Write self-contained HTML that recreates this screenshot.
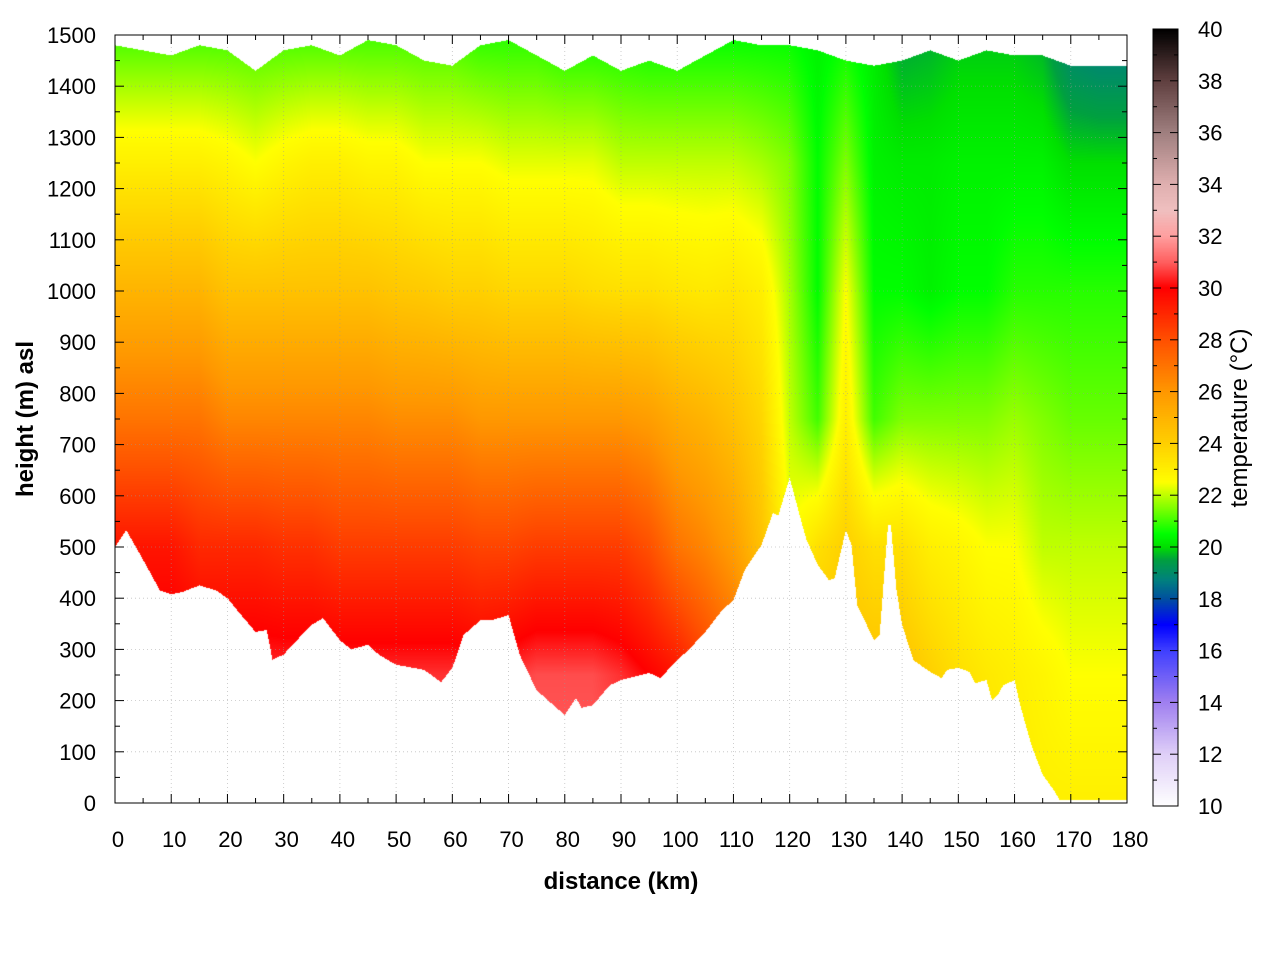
<!DOCTYPE html>
<html><head><meta charset="utf-8">
<style>
html,body{margin:0;padding:0;background:#fff;}
#wrap{position:relative;width:1280px;height:960px;overflow:hidden;font-family:"Liberation Sans",sans-serif;}
canvas{position:absolute;}
svg{position:absolute;left:0;top:0;}
</style></head>
<body>
<div id="wrap">
<canvas id="heat" width="1012" height="768" style="left:115px;top:35px"></canvas>
<canvas id="cbar" width="25" height="777" style="left:1153px;top:29px"></canvas>
<svg id="ov" width="1280" height="960"></svg>
</div>
<script>
// ---- data ----
const groundKm = [0,2,5,8,10,12,15,18,20,22,25,27,28,30,32,35,37,40,42,45,47,50,55,58,60,62,65,67,70,72,75,78,80,82,83,85,88,90,95,97,100,102,105,108,110,112,115,117,118,120,122,123,125,127,128,130,131,132,135,136,137.5,138,139,140,142,145,147,148,150,152,153,155,156,157,158,160,161,163,165,167,168,180];
const groundH = [500,533,475,415,408,412,425,415,400,373,334,338,280,290,314,348,361,318,300,309,289,270,260,236,264,328,357,357,367,289,220,191,172,205,186,191,230,240,254,244,279,299,334,377,396,455,504,566,562,635,553,514,465,435,439,533,504,387,318,328,543,543,416,348,279,256,244,260,264,256,234,240,201,211,230,240,191,113,55,25,6,6];
const topKm = [0,5,10,15,20,25,30,35,40,45,50,55,60,65,70,75,80,85,90,95,100,105,110,115,120,125,130,135,140,145,150,155,160,165,170,175,180];
const topH = [1480,1470,1460,1480,1470,1430,1470,1480,1460,1490,1480,1450,1440,1480,1490,1460,1430,1460,1430,1450,1430,1460,1490,1480,1480,1470,1450,1440,1450,1470,1450,1470,1460,1460,1440,1440,1440];
const gridKm = [0,5,10,15,20,25,30,35,40,45,50,55,60,65,70,75,80,85,90,95,100,105,110,115,120,125,130,135,140,145,150,155,160,165,170,175,180];
const gridHeights = [0,250,500,750,1000,1250,1500];
const temps = [
[31,30.5,29.5,27,25,23,21],[31,30.5,29.5,27,25,23,21],[31,30.5,29.5,27,25,23,21],[31,30.5,29,27,25,23,21],
[31,30.5,29,26.5,24.5,22.8,21],[31,30.5,29,26.5,24.5,22.5,21],[31,30.5,28.8,26.5,24.5,22.8,21],[31,30.5,28.8,26.5,24.5,23,21],
[31,30.5,28.5,26.5,24.5,23,21],[31,30.5,28.5,26.5,24.5,22.8,21],[31,30.5,28.5,26.3,24.3,22.8,21],[31,30.5,28.5,26.3,24.2,22.5,21],
[31,30.5,28.5,26.3,24,22.5,21],[31,30.3,28.3,26,24,22.5,20.8],[31,30.5,28.3,26,23.8,22.3,20.8],[31,30.8,28.5,26,23.8,22.3,20.8],
[31,30.8,28.5,26,23.8,22.3,20.6],[31,30.8,28.5,26,23.6,22.3,20.6],[31,30.5,28.5,26,23.5,22,20.6],[31,30,28,25.8,23.5,22,20.5],
[31,29.5,27,25.3,23.3,22,20.5],[30,28.5,26.5,25,23.2,22,20.5],[29,27.5,25.8,24.5,23.3,22,20.5],[28,26,24.5,23.8,23,21.8,20.5],
[27,25,22.5,22,21.8,21.5,20.5],[26,24.5,23.5,21,20.5,20.5,20.3],[26,24.5,24,23,22.5,21.5,20.5],[26,24.5,23.5,21,20.5,20.3,20.2],
[25,24.5,23.5,21.5,20.5,20.2,19.5],[24.5,24,23,21.5,20.3,20.2,19.6],[24,23.5,22.8,21.5,20.5,20.3,19.8],[23.5,23.2,22.5,21.5,20.5,20.3,19.8],
[23.2,23,22.5,21.7,20.8,20.3,19.8],[23,22.8,22,21.5,20.8,20.3,19.6],[23,22.5,22,21.3,20.8,20,18.8],[23,22.5,22,21.3,20.8,20,18.6],[23,22.5,22,21.3,20.8,20,18.6]
];
const xTicks = [0,10,20,30,40,50,60,70,80,90,100,110,120,130,140,150,160,170,180];
const yTicks = [0,100,200,300,400,500,600,700,800,900,1000,1100,1200,1300,1400,1500];
const cTicks = [10,12,14,16,18,20,22,24,26,28,30,32,34,36,38,40];
const cStops = [[10,'#ffffff'],[12,'#e0d0f8'],[14,'#a080f0'],[16,'#4040ff'],[17,'#0000ff'],[18,'#0050a0'],[18.7,'#008080'],[19.5,'#00a040'],[20,'#00e000'],[20.5,'#00ff00'],[21.5,'#80ff00'],[22.5,'#ffff00'],[24,'#ffd000'],[26,'#ff9800'],[28,'#ff5000'],[30,'#ff0000'],[31,'#ff6060'],[32,'#ffa0a0'],[33,'#f0c0c0'],[34,'#e0b0b0'],[36,'#a08080'],[38,'#604040'],[40,'#000000']];

// ---- scales ----
const X0=115,X1=1127,Y0=803,Y1=35;
const xS=k=>X0+(X1-X0)*k/180;
const yS=h=>Y0-(Y0-Y1)*h/1500;
function interp(xs,ys,x){if(x<=xs[0])return ys[0];for(let i=1;i<xs.length;i++){if(x<=xs[i]){const t=(x-xs[i-1])/(xs[i]-xs[i-1]);return ys[i-1]+t*(ys[i]-ys[i-1]);}}return ys[ys.length-1];}
const stopRGB=cStops.map(s=>[s[0],parseInt(s[1].slice(1,3),16),parseInt(s[1].slice(3,5),16),parseInt(s[1].slice(5,7),16)]);
function col(t){if(t<=10)return stopRGB[0].slice(1);for(let i=1;i<stopRGB.length;i++){if(t<=stopRGB[i][0]){const a=stopRGB[i-1],b=stopRGB[i],f=(t-a[0])/(b[0]-a[0]);return [a[1]+f*(b[1]-a[1]),a[2]+f*(b[2]-a[2]),a[3]+f*(b[3]-a[3])];}}return [0,0,0];}
function tempAt(k,h){
  let i=0;
  while(i<gridKm.length-2&&k>gridKm[i+1])i++;
  const fx=Math.max(0,Math.min(1,(k-gridKm[i])/(gridKm[i+1]-gridKm[i])));
  let j=0;while(j<gridHeights.length-2&&h>gridHeights[j+1])j++;
  const fy=Math.max(0,Math.min(1,(h-gridHeights[j])/(gridHeights[j+1]-gridHeights[j])));
  const a=temps[i][j]*(1-fy)+temps[i][j+1]*fy, b=temps[i+1][j]*(1-fy)+temps[i+1][j+1]*fy;
  return a*(1-fx)+b*fx;
}
// ---- heatmap ----
const hc=document.getElementById('heat').getContext('2d');
const W=1012,H=768,img=hc.createImageData(W,H);
for(let px=0;px<W;px++){
  const k=(px+0.5)/W*180;
  const g=interp(groundKm,groundH,k), tp=interp(topKm,topH,k);
  for(let py=0;py<H;py++){
    const h=1500-(py+0.5)/H*1500;
    if(h<g||h>tp)continue;
    const c=col(tempAt(k,h));
    const o=(py*W+px)*4;img.data[o]=c[0];img.data[o+1]=c[1];img.data[o+2]=c[2];img.data[o+3]=255;
  }
}
hc.putImageData(img,0,0);
// ---- colorbar ----
const cc=document.getElementById('cbar').getContext('2d');
for(let py=0;py<777;py++){const t=40-(py+0.5)/777*30;const c=col(t);cc.fillStyle=`rgb(${c[0]|0},${c[1]|0},${c[2]|0})`;cc.fillRect(0,py,25,1);}
// ---- overlay ----
const svg=document.getElementById('ov');const NS='http://www.w3.org/2000/svg';
function el(tag,attrs,parent){const e=document.createElementNS(NS,tag);for(const k in attrs)e.setAttribute(k,attrs[k]);(parent||svg).appendChild(e);return e;}
const gGrid=el('g',{stroke:'#999','stroke-width':0.8,'stroke-dasharray':'1,3',opacity:0.6});


xTicks.forEach(v=>el('line',{x1:xS(v),x2:xS(v),y1:Y1,y2:Y0},gGrid));
yTicks.forEach(v=>el('line',{x1:X0,x2:X1,y1:yS(v),y2:yS(v)},gGrid));
const gT=el('g',{stroke:'#000','stroke-width':1});


for(let v=0;v<=180;v+=5){const L=v%10===0?9:5;el('line',{x1:xS(v),x2:xS(v),y1:Y0,y2:Y0-L},gT);el('line',{x1:xS(v),x2:xS(v),y1:Y1,y2:Y1+L},gT);}
for(let v=0;v<=1500;v+=50){const L=v%100===0?9:5;el('line',{x1:X0,x2:X0+L,y1:yS(v),y2:yS(v)},gT);el('line',{x1:X1,x2:X1-L,y1:yS(v),y2:yS(v)},gT);}
const frame=el('rect',{x:X0,y:Y1,width:X1-X0,height:Y0-Y1,fill:'none',stroke:'#000','stroke-width':1});


const gX=el('g',{'font-size':22,'text-anchor':'middle',fill:'#000','font-family':'Liberation Sans'});


xTicks.forEach(v=>{const t=el('text',{x:xS(v)+3,y:847},gX);t.textContent=v;});
const gY=el('g',{'font-size':22,'text-anchor':'end',fill:'#000','font-family':'Liberation Sans'});


yTicks.forEach(v=>{const t=el('text',{x:96,y:yS(v)+8},gY);t.textContent=v;});
// colorbar frame & ticks
const CY0=806,CY1=29,cy=t=>CY0-(CY0-CY1)*(t-10)/30;
const cf=el('rect',{x:1153,y:CY1,width:25,height:CY0-CY1,fill:'none',stroke:'#000','stroke-width':1});


const gC=el('g',{stroke:'#000','stroke-width':1});


for(let t=10;t<=40;t++){const L=t%2===0?8:4;el('line',{x1:1153,x2:1153+L,y1:cy(t),y2:cy(t)},gC);el('line',{x1:1178,x2:1178-L,y1:cy(t),y2:cy(t)},gC);}
const gCL=el('g',{'font-size':22,'text-anchor':'start',fill:'#000','font-family':'Liberation Sans'});


cTicks.forEach(v=>{const t=el('text',{x:1198,y:cy(v)+8},gCL);t.textContent=v;});
// titles
const xt=el('text',{x:621,y:889,'font-size':24,'font-weight':'bold','text-anchor':'middle','font-family':'Liberation Sans'});xt.textContent='distance (km)';


const yt=el('text',{x:0,y:0,'font-size':24,'font-weight':'bold','text-anchor':'middle','font-family':'Liberation Sans',transform:'translate(33,419) rotate(-90)'});yt.textContent='height (m) asl';


const ct=el('text',{x:0,y:0,'font-size':24,'text-anchor':'middle','font-family':'Liberation Sans',transform:'translate(1247,418) rotate(-90)'});ct.textContent='temperature (°C)';


</script>
</body></html>
